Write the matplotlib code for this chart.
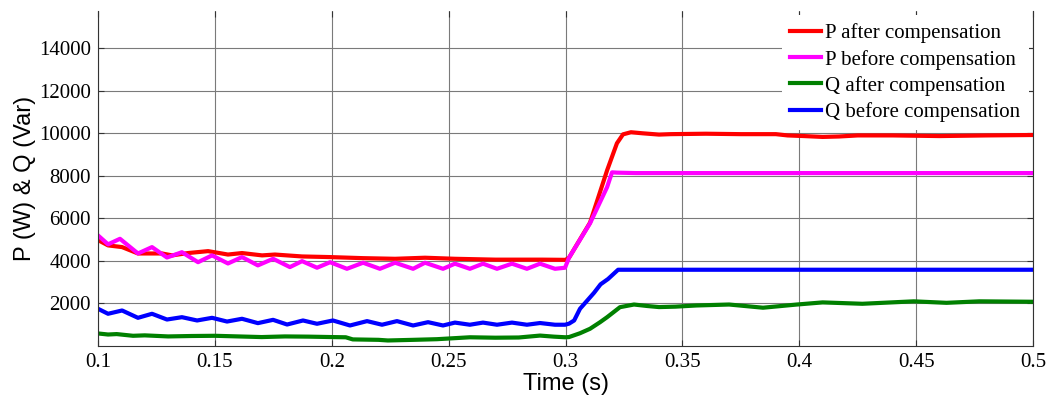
import numpy as np
import matplotlib.pyplot as plt

# P after compensation (W)
t_p_after = [0.1, 0.1043, 0.1103, 0.1171, 0.1274, 0.1317, 0.1385, 0.1471, 0.1556, 0.1616,
             0.1702, 0.1757, 0.1873, 0.1993, 0.2134, 0.2271, 0.2399, 0.2527, 0.27, 0.29,
             0.3, 0.3015, 0.3105, 0.3178, 0.322, 0.3246, 0.328, 0.333, 0.34, 0.345,
             0.36, 0.375, 0.39, 0.395, 0.402, 0.41, 0.417, 0.425, 0.44, 0.46, 0.48, 0.5]
p_after = [4980, 4730, 4650, 4350, 4350, 4260, 4370, 4460, 4300, 4370,
           4260, 4300, 4210, 4180, 4130, 4100, 4150, 4100, 4060, 4060,
           4050, 4150, 5800, 8260, 9530, 9950, 10050, 10000, 9940, 9960,
           9980, 9960, 9960, 9900, 9870, 9830, 9850, 9900, 9900, 9870, 9900, 9920]

# P before compensation (W)
t_p_before = [0.1, 0.1043, 0.1094, 0.1171, 0.1231, 0.1295, 0.1359, 0.1428, 0.1488, 0.1556,
              0.1616, 0.1684, 0.1749, 0.1821, 0.1873, 0.1937, 0.1993, 0.2065, 0.2134, 0.2206,
              0.2271, 0.2348, 0.2399, 0.2476, 0.2527, 0.2591, 0.2647, 0.2707, 0.2771, 0.2835,
              0.2891, 0.2955, 0.2998, 0.3015, 0.3105, 0.3178, 0.3199, 0.322, 0.33, 0.4, 0.5]
p_before = [5200, 4780, 5040, 4350, 4650, 4160, 4410, 3940, 4260, 3880,
            4180, 3790, 4100, 3710, 3990, 3680, 3940, 3630, 3915, 3630,
            3915, 3630, 3915, 3630, 3870, 3630, 3870, 3630, 3870, 3630,
            3870, 3630, 3680, 4150, 5770, 7470, 8165, 8150, 8130, 8130, 8130]

# Q after compensation (Var)
t_q_after = [0.1, 0.1043, 0.108, 0.115, 0.12, 0.13, 0.14, 0.15, 0.16, 0.17,
             0.18, 0.19, 0.2, 0.206, 0.209, 0.22, 0.224, 0.235, 0.245, 0.2591,
             0.27, 0.28, 0.2891, 0.295, 0.3, 0.3015, 0.3062, 0.3105, 0.3148, 0.3178,
             0.3233, 0.3293, 0.335, 0.34, 0.347, 0.356, 0.37, 0.3845, 0.399, 0.41,
             0.427, 0.449, 0.463, 0.477, 0.5]
q_after = [590, 540, 560, 480, 500, 450, 470, 480, 450, 420,
           450, 440, 420, 410, 310, 290, 260, 290, 320, 410,
           390, 400, 490, 440, 410, 420, 600, 810, 1120, 1355,
           1825, 1950, 1880, 1830, 1850, 1905, 1950, 1800, 1950, 2050,
           1985, 2100, 2030, 2100, 2080]

# Q before compensation (Var)
t_q_before = [0.1, 0.1043, 0.1103, 0.1171, 0.1231, 0.1295, 0.1359, 0.1424, 0.1488, 0.1552,
              0.1616, 0.1684, 0.1749, 0.1809, 0.1877, 0.1937, 0.2005, 0.2078, 0.2151, 0.2215,
              0.2279, 0.2348, 0.2412, 0.2476, 0.2527, 0.2591, 0.2647, 0.2707, 0.2771, 0.2835,
              0.2891, 0.2955, 0.2998, 0.3015, 0.3037, 0.3062, 0.3122, 0.315, 0.3182, 0.3225, 0.5]
q_before = [1750, 1515, 1670, 1325, 1515, 1245, 1355, 1200, 1325, 1150,
            1280, 1075, 1230, 1010, 1200, 1045, 1200, 965, 1170, 1000,
            1170, 965, 1120, 965, 1100, 1000, 1100, 1000, 1100, 1000,
            1080, 1000, 1000, 1050, 1200, 1750, 2500, 2900, 3150, 3585, 3585]

labels = ['P after compensation', 'P before compensation',
          'Q after compensation', 'Q before compensation']
xticks = [0.1, 0.15, 0.2, 0.25, 0.3, 0.35, 0.4, 0.45, 0.5]
yticks = [2000, 4000, 6000, 8000, 10000, 12000, 14000]

fig = plt.figure(figsize=(10.46, 3.97), dpi=100)
ax = fig.add_axes([98 / 1046, 1 - 346 / 397, 935 / 1046, 335 / 397])

lw = 3.0
ax.plot(t_p_after, p_after, color='#ff0000', lw=lw, label=labels[0])
ax.plot(t_p_before, p_before, color='#ff00ff', lw=lw, label=labels[1])
ax.plot(t_q_after, q_after, color='#008000', lw=lw, label=labels[2])
ax.plot(t_q_before, q_before, color='#0000ff', lw=lw, label=labels[3])

ax.set_xlim(0.1, 0.5)
ax.set_ylim(0, 15750)
ax.set_xticks(xticks)
ax.set_xticklabels([f'{v:g}' for v in xticks])
ax.set_yticks(yticks)
ax.set_yticklabels([str(v) for v in yticks])
ax.grid(True, color='#7a7a7a', lw=0.8)
ax.set_axisbelow(True)

ax.spines['top'].set_visible(False)
for s in ['left', 'right', 'bottom']:
    ax.spines[s].set_color('#333333')
    ax.spines[s].set_linewidth(0.8)
ax.tick_params(direction='in', top=True, right=True, length=4, width=0.8,
               color='#333333', labelsize=15, pad=5)
for lab in ax.get_xticklabels() + ax.get_yticklabels():
    lab.set_fontfamily('Liberation Serif')

ax.set_xlabel('Time (s)', fontsize=17, family='Liberation Sans', labelpad=1)
ax.set_ylabel('P (W) & Q (Var)', fontsize=17, family='Liberation Sans', labelpad=2)

leg = ax.legend(loc='upper right', prop={'family': 'Liberation Serif', 'size': 15},
                frameon=True, fancybox=False, framealpha=1, edgecolor='none',
                handlelength=1.5, handletextpad=0.2, labelspacing=0.3,
                borderaxespad=0.2, borderpad=0.4)
leg.set_zorder(1.5)  # lines stay visible over the legend box
for h in leg.get_lines():
    h.set_linewidth(3.0)

fig.savefig('out.png', dpi=100)
